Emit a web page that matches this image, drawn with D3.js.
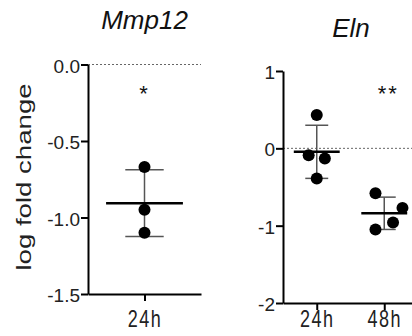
<!DOCTYPE html>
<html>
<head>
<meta charset="utf-8">
<script src="https://cdn.jsdelivr.net/npm/d3@7/dist/d3.min.js"></script>
<style>
  body { margin: 0; background: #fff; }
  svg { display: block; font-family: "Liberation Sans", Arial, sans-serif; }
</style>
</head>
<body>
<svg id="chart" width="412" height="336"></svg>
<script>
// values (log fold change)
const mmpGroups = ["24h"];
const mmpValues = [[-0.67, -0.95, -1.10]];
const mmpJitter = [[0, 0, 0]];
const mmpTicks = [0, -0.5, -1, -1.5];
const mmpStars = "*";

const elnGroups = ["24h", "48h"];
const elnValues = [[0.43, -0.09, -0.13, -0.39], [-0.58, -0.77, -0.96, -1.05]];
// horizontal scatter of the dots, in fractions of a group's width
const elnJitter = [[0, -0.12, 0.12, 0], [-0.13, 0.27, 0.13, -0.13]];
const elnTicks = [1, 0, -1, -2];
const elnStars = "**";

const svg = d3.select("#chart");
const labelBaseline = 327;

function drawPanel(opt) {
  const x = d3.scalePoint().domain(opt.groups).range(opt.xRange).padding(0.5);
  const y = d3.scaleLinear().domain(opt.yDomain).range(opt.yRange);
  const step = x.step();
  const jx = d3.scaleLinear().domain([-0.5, 0.5]).range([-step / 2, step / 2]);
  const g = svg.append("g");

  // dotted zero line
  g.append("line")
    .attr("x1", opt.xRange[0]).attr("x2", opt.xRange[1])
    .attr("y1", y(0)).attr("y2", y(0))
    .attr("stroke", "#666").attr("stroke-width", 1)
    .attr("stroke-dasharray", "2,2");

  // x axis
  const xa = g.append("g")
    .attr("transform", "translate(0," + opt.yRange[0] + ")")
    .call(d3.axisBottom(x).tickSize(7).tickSizeOuter(0));
  xa.select(".domain").attr("stroke", "#000").attr("stroke-width", 2);
  xa.selectAll(".tick line").attr("stroke", "#000").attr("stroke-width", 2);
  xa.selectAll(".tick text")
    .attr("y", 0).attr("dy", 0)
    .attr("transform", "translate(0," + (labelBaseline - opt.yRange[0]) + ") scale(1,1.3)")
    .attr("fill", "#222")
    .style("font-size", "18px")
    .style("letter-spacing", "1.5px")
    .style("font-family", "'Liberation Sans', Arial, sans-serif");

  // y axis
  const ya = g.append("g")
    .attr("transform", "translate(" + opt.xRange[0] + ",0)")
    .call(d3.axisLeft(y).tickValues(opt.ticks).tickFormat(opt.fmt)
      .tickSize(7).tickSizeOuter(0).tickPadding(1));
  ya.select(".domain").attr("stroke", "#000").attr("stroke-width", 2);
  ya.selectAll(".tick line").attr("stroke", "#000").attr("stroke-width", 2);
  ya.selectAll(".tick text")
    .attr("dy", "0.4em")
    .attr("fill", "#222")
    .style("font-size", "19px")
    .style("font-family", "'Liberation Sans', Arial, sans-serif");

  // groups: error bars, mean, dots
  opt.groups.forEach((grp, i) => {
    const vals = opt.values[i];
    const m = d3.mean(vals);
    const sd = d3.deviation(vals);
    const cx = x(grp);
    const gg = g.append("g");

    gg.append("line")
      .attr("x1", cx).attr("x2", cx)
      .attr("y1", y(m + sd)).attr("y2", y(m - sd))
      .attr("stroke", "#555").attr("stroke-width", 1.5);
    [m + sd, m - sd].forEach(v => {
      gg.append("line")
        .attr("x1", cx - step * 0.17).attr("x2", cx + step * 0.17)
        .attr("y1", y(v)).attr("y2", y(v))
        .attr("stroke", "#555").attr("stroke-width", 1.5);
    });

    gg.selectAll("circle")
      .data(vals)
      .enter()
      .append("circle")
      .attr("cx", (d, k) => cx + jx(opt.jitter[i][k]))
      .attr("cy", d => y(d))
      .attr("r", 6)
      .attr("fill", "#000");

    gg.append("line")
      .attr("x1", cx - step * 0.34).attr("x2", cx + step * 0.34)
      .attr("y1", y(m)).attr("y2", y(m))
      .attr("stroke", "#000").attr("stroke-width", 2.5);
  });

  // significance stars, over the last group
  g.append("text")
    .attr("x", x(opt.groups[opt.groups.length - 1]) + opt.starShift)
    .attr("y", 101)
    .attr("text-anchor", "middle")
    .attr("fill", "#111")
    .style("font-size", "22px")
    .style("letter-spacing", "2px")
    .text(opt.stars);

  // title
  g.append("text")
    .attr("x", opt.titleX)
    .attr("y", opt.titleY)
    .attr("text-anchor", "middle")
    .attr("fill", "#111")
    .style("font-size", "26px")
    .style("font-style", "italic")
    .text(opt.title);
}

drawPanel({
  groups: mmpGroups, values: mmpValues, jitter: mmpJitter,
  xRange: [88, 201], yDomain: [-1.5, 0], yRange: [294, 64.5],
  ticks: mmpTicks, fmt: d => d.toFixed(1),
  stars: mmpStars, starShift: 0,
  title: "Mmp12", titleX: 144.5, titleY: 29
});

drawPanel({
  groups: elnGroups, values: elnValues, jitter: elnJitter,
  xRange: [283, 418], yDomain: [-2, 1], yRange: [303, 71],
  ticks: elnTicks, fmt: d => String(d),
  stars: elnStars, starShift: 4,
  title: "Eln", titleX: 351, titleY: 37
});

// y axis label
svg.append("text")
  .attr("transform", "translate(31,177) rotate(-90) scale(1.38,1)")
  .attr("text-anchor", "middle")
  .attr("fill", "#222")
  .style("font-size", "20px")
  .text("log fold change");
</script>
</body>
</html>
